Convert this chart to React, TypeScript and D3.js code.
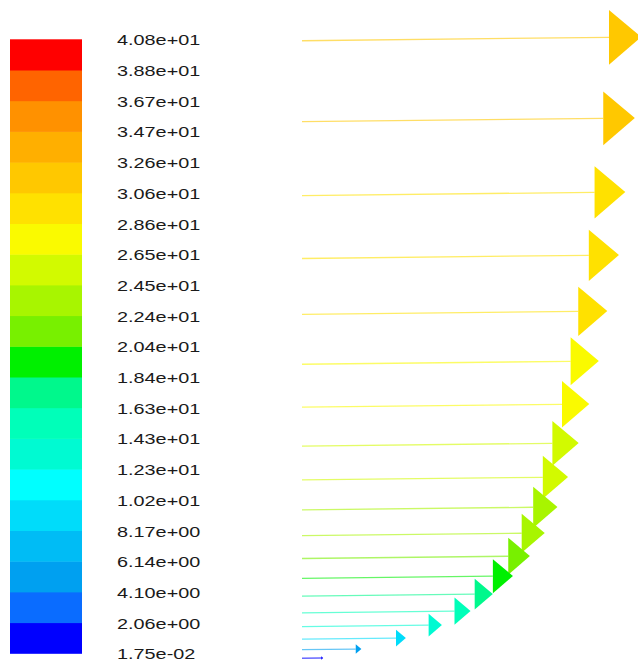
import React, { useRef, useEffect } from 'react';
import * as d3 from 'd3';

// colour bar labels, top to bottom
const levelLabels = [
  '4.08e+01', '3.88e+01', '3.67e+01', '3.47e+01', '3.26e+01', '3.06e+01', '2.86e+01',
  '2.65e+01', '2.45e+01', '2.24e+01', '2.04e+01', '1.84e+01', '1.63e+01', '1.43e+01',
  '1.23e+01', '1.02e+01', '8.17e+00', '6.14e+00', '4.10e+00', '2.06e+00', '1.75e-02',
];

// band colours, lowest band first
const bandColors = [
  '#0000ff', '#0a6cff', '#00a0f0', '#00bcf5', '#00dcfa',
  '#00ffff', '#00fad2', '#00ffb9', '#00f88c', '#00f000',
  '#78f000', '#a8f500', '#d2fa00', '#fafa00', '#ffe100',
  '#ffc800', '#ffaf00', '#ff9100', '#ff6400', '#ff0000',
];

// vectors: distance from wall and velocity magnitude
const wallDistance = [62.5, 54.4, 47.0, 40.7, 35.1, 30.1, 25.8, 21.9, 18.5, 15.5, 12.9, 10.6, 8.6, 6.8, 5.1, 3.7, 2.4, 1.3, 0.4];
const velocity = [32.0, 31.4, 30.5, 29.9, 28.8, 28.0, 27.1, 26.1, 25.1, 24.1, 22.9, 21.5, 19.9, 18.0, 15.9, 13.2, 9.8, 5.6, 2.0];

const W = 638;
const H = 666;

function App() {
  const ref = useRef<SVGSVGElement | null>(null);

  useEffect(() => {
    if (!ref.current) return;
    const svg = d3.select(ref.current);
    svg.selectAll('*').remove();

    const levels = levelLabels.map(Number).reverse(); // ascending
    const nBands = bandColors.length;

    // colour bar
    const barY = d3.scaleLinear().domain([0, nBands]).range([653.3, 39.3]);
    const barX0 = 10;
    const barX1 = 82;

    const bar = svg.append('g');
    bar.selectAll('rect')
      .data(bandColors)
      .join('rect')
        .attr('x', barX0)
        .attr('y', (_, i) => barY(i + 1))
        .attr('width', barX1 - barX0)
        .attr('height', (_, i) => barY(i) - barY(i + 1) + 0.5)
        .attr('fill', d => d);

    bar.selectAll('text')
      .data(levelLabels)
      .join('text')
        .attr('transform', (_, i) => `translate(117,${barY(nBands - i) + 6}) scale(1.28,1)`)
        .attr('font-family', '"Liberation Sans", Arial, sans-serif')
        .attr('font-size', 15.5)
        .attr('fill', '#1a1a1a')
        .text(d => d);

    // vectors
    const color = d3.scaleThreshold<number, string>()
      .domain(levels.slice(1, nBands))
      .range(bandColors);

    const x = d3.scaleLinear().domain([0, 32]).range([302, 641.2]);
    const y = d3.scaleLinear().domain([0, 63]).range([662, 32]);

    const data = velocity.map((v, i) => ({ v, d: wallDistance[i] }));

    const vec = svg.append('g')
      .selectAll('g')
      .data(data)
      .join('g');

    vec.each(function (p) {
      const g = d3.select(this);
      const x0 = x(0);
      const x1 = x(p.v);
      const L = x1 - x0;
      const yHead = y(p.d);
      const yTail = yHead + 0.011 * L;
      const headLen = 0.095 * L;
      const half = 0.85 * headLen;
      const c = color(p.v);
      const xb = x1 - headLen;
      const yb = yTail + (yHead - yTail) * ((xb - x0) / L);

      g.append('line')
        .attr('x1', x0).attr('y1', yTail)
        .attr('x2', xb).attr('y2', yb)
        .attr('stroke', c)
        .attr('stroke-width', 1.3)
        .attr('stroke-opacity', 0.6);

      g.append('path')
        .attr('d', d3.line()([[xb, yb - half], [x1, yHead], [xb, yb + half]]) + 'Z')
        .attr('fill', c);
    });
  }, []);

  return (
    <svg
      ref={ref}
      width={W}
      height={H}
      style={{ position: 'absolute', left: 0, top: 0, background: '#fff' }}
    />
  );
}

export default App;
